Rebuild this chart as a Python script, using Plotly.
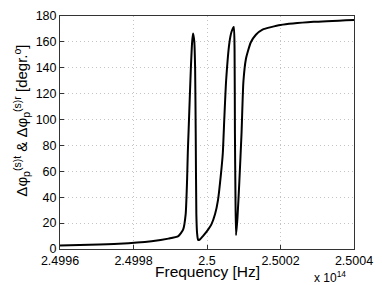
import plotly.graph_objects as go

# Frequency in units of 1e14 Hz
freq = [2.49960, 2.49968, 2.49976, 2.499849, 2.499895, 2.499922, 2.499935, 2.499942,
        2.499946, 2.4999478, 2.499950, 2.499956, 2.4999596, 2.499962, 2.4999655, 2.4999677,
        2.4999693, 2.499971, 2.4999731, 2.4999758, 2.499981, 2.499989, 2.500003, 2.500012,
        2.500022, 2.500030, 2.500038, 2.500043, 2.500047, 2.500052, 2.500061, 2.500067,
        2.500073, 2.500075, 2.500076, 2.5000775, 2.500079, 2.500083, 2.500088, 2.500094,
        2.500099, 2.500106, 2.500119, 2.500133, 2.500151, 2.500200, 2.500290, 2.500400]
# Phase difference in degrees
phase = [2.8, 3.2, 4.0, 6.0, 8.0, 10.0, 15.0, 27.0,
         55.0, 75.0, 92.0, 139.0, 160.0, 166.5, 160.0, 139.0,
         89.5, 27.0, 12.0, 7.0, 7.5, 10.0, 15.0, 19.0,
         27.0, 38.0, 58.0, 74.0, 100.0, 130.0, 159.5, 168.0,
         171.5, 154.0, 89.5, 40.0, 10.7, 24.5, 52.0, 89.5,
         129.0, 147.0, 159.5, 165.5, 169.5, 173.0, 175.5, 177.0]

xticks = [2.4996, 2.4998, 2.5, 2.5002, 2.5004]
xticklabels = ["2.4996", "2.4998", "2.5", "2.5002", "2.5004"]
yticks = [0, 20, 40, 60, 80, 100, 120, 140, 160, 180]

fig = go.Figure()
fig.add_trace(go.Scatter(x=freq, y=phase, mode="lines",
                         line=dict(color="black", width=2, shape="spline", smoothing=0.5),
                         showlegend=False))

fig.update_layout(
    width=382, height=285,
    margin=dict(l=60, r=24, t=9, b=36),
    paper_bgcolor="white", plot_bgcolor="white",
    font=dict(family="Liberation Sans, Arial, sans-serif", color="black", size=12.5),
)
axis_common = dict(
    showline=True, linecolor="#333", linewidth=1, mirror=True,
    ticks="inside", ticklen=4, tickcolor="#333",
    showgrid=True, gridcolor="#c4c4c4", griddash="1px,3px", gridwidth=1,
    zeroline=False, tickfont=dict(size=12.5),
)
fig.update_xaxes(range=[2.4996, 2.5004], tickvals=xticks, ticktext=xticklabels, **axis_common)
fig.update_yaxes(range=[0, 180], tickvals=yticks, **axis_common)

fig.add_annotation(text="Frequency [Hz]", xref="paper", yref="paper",
                   x=0.5, y=-0.097, xanchor="center", yanchor="middle",
                   showarrow=False, font=dict(size=15.5))
fig.add_annotation(text="Δφ<sub>p</sub><sup>(s)t</sup> & Δφ<sub>p</sub><sup>(s)r</sup> [degr.<sup>o</sup>]",
                   xref="paper", yref="paper", x=-0.13, y=0.55,
                   xanchor="center", yanchor="middle", textangle=-90,
                   showarrow=False, font=dict(size=15))
fig.add_annotation(text="x 10<sup>14</sup>", xref="paper", yref="paper",
                   x=0.98, y=-0.122, xanchor="right", yanchor="middle",
                   showarrow=False, font=dict(size=12))

fig.write_html("out.html", config={"displayModeBar": False},
               post_script="document.body.style.margin='0';document.body.style.overflow='hidden';")
